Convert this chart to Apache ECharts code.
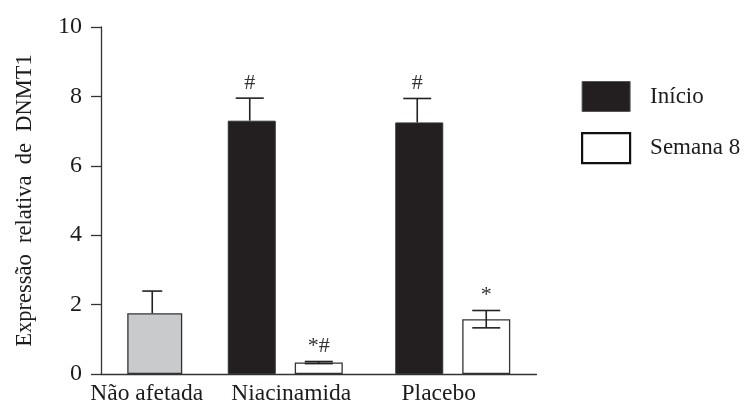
<!DOCTYPE html>
<html>
<head>
<meta charset="utf-8">
<script src="https://cdn.jsdelivr.net/npm/echarts@6/dist/echarts.min.js"></script>
<style>html,body{margin:0;padding:0;background:#fff;}#c{width:744px;height:406px;}</style>
</head>
<body>
<div id="c"></div>
<script>
// ---- data ----
const groups = ['Não afetada', 'Niacinamida', 'Placebo'];
const naoAfetada = [1.75];
const naoAfetadaErr = [0.64];
const inicio = [7.30, 7.25];          // Niacinamida, Placebo
const inicioErr = [0.65, 0.69];
const semana8 = [0.33, 1.58];         // Niacinamida, Placebo
const semana8Err = [0.03, 0.25];
const inicioMarks = ['#', '#'];
const semana8Marks = ['*#', '*'];
const yTicks = [0, 2, 4, 6, 8, 10];
const legendNames = ['Início', 'Semana 8'];
const yTitle = 'Expressão  relativa  de  DNMT1';

// ---- layout (slots on a category axis) ----
const nSlots = 13;
const slotGray = [1];
const slotInicio = [4, 9];
const slotSemana = [6, 11];
const labelSlots = [1, 5, 10];
const labelKeys = ['a', 'b', 'c'];

const axisCats = new Array(nSlots).fill('');
labelSlots.forEach((s, i) => axisCats[s] = groups[i]);
function fill(slots, vals) {
  const arr = new Array(nSlots).fill('-');
  slots.forEach((s, i) => arr[s] = vals[i]);
  return arr;
}
function errData(slots, vals, errs, lower) {
  return slots.map((s, i) => [s, vals[i], errs[i], lower ? 1 : 0]);
}
const ink = '#222';
const txt = '#1c1c1c';
const font = 'Liberation Serif';
function errRender(dx, halfCap, marks) {
  return function (params, api) {
    const s = api.value(0), v = api.value(1), e = api.value(2), low = api.value(3);
    const mark = marks ? marks[params.dataIndex] : '';
    const top = api.coord([s, v + e]);
    const mid = api.coord([s, v]);
    const bot = api.coord([s, v - e]);
    const x = top[0] + dx;
    const st = { stroke: ink, lineWidth: 1.6 };
    const ch = [
      { type: 'line', shape: { x1: x, y1: low ? bot[1] : mid[1], x2: x, y2: top[1] }, style: st },
      { type: 'line', shape: { x1: x - halfCap, y1: top[1], x2: x + halfCap, y2: top[1] }, style: st }
    ];
    if (low) ch.push({ type: 'line', shape: { x1: x - halfCap, y1: bot[1], x2: x + halfCap, y2: bot[1] }, style: st });
    if (mark) ch.push({ type: 'text', style: { text: mark, x: x, y: top[1] - 4, align: 'center', verticalAlign: 'bottom', fill: '#333', font: '22px "Liberation Serif"' } });
    return { type: 'group', children: ch };
  };
}

const chart = echarts.init(document.getElementById('c'), null, { renderer: 'canvas' });
chart.setOption({
  animation: false,
  backgroundColor: '#fff',
  grid: { left: 101, top: 27, width: 435.5, height: 347 },
  legend: {
    orient: 'vertical', left: 581, top: 81, padding: 0,
    itemWidth: 48, itemHeight: 30, itemGap: 20,
    icon: 'rect',
    data: [
      { name: legendNames[0], itemStyle: { color: '#231f20', borderColor: '#555', borderWidth: 1 } },
      { name: legendNames[1], itemStyle: { color: '#fff', borderColor: '#111', borderWidth: 2.2 } }
    ],
    textStyle: { fontFamily: font, fontSize: 23, color: txt, padding: [0, 0, 0, 15] }
  },
  xAxis: {
    type: 'category', data: axisCats,
    axisLine: { lineStyle: { color: '#333', width: 1.3 } },
    axisTick: { show: false },
    axisLabel: {
      interval: 0, margin: 8, fontFamily: font, fontSize: 23.5, color: txt,
      formatter: function (v) {
        const i = groups.indexOf(v);
        return i < 0 ? '' : '{' + labelKeys[i] + '|' + v + '}';
      },
      rich: {
        a: { fontFamily: font, fontSize: 23.5, color: txt, padding: [0, 9, 0, 0] },
        b: { fontFamily: font, fontSize: 23.5, color: txt, padding: [0, 0, 0, 12] },
        c: { fontFamily: font, fontSize: 23.5, color: txt, padding: [0, 28, 0, 0] }
      }
    }
  },
  yAxis: {
    type: 'value', min: yTicks[0], max: yTicks[yTicks.length - 1], interval: 2,
    name: yTitle, nameLocation: 'middle', nameGap: 64,
    nameTextStyle: { fontFamily: font, fontSize: 22.5, color: txt },
    axisLine: { show: true, lineStyle: { color: '#333', width: 1.3 } },
    axisTick: { show: true, length: 10, lineStyle: { color: '#333', width: 1.3 } },
    axisLabel: { margin: 19, fontFamily: font, fontSize: 24, color: txt },
    splitLine: { show: false }
  },
  series: [
    {
      name: 'Não afetada', type: 'bar', barWidth: 55, barGap: '-100%',
      data: fill(slotGray, naoAfetada),
      itemStyle: { color: '#c9cacc', borderColor: '#333', borderWidth: 1.3 }
    },
    {
      name: legendNames[0], type: 'bar', barWidth: 48, barGap: '-100%',
      data: fill(slotInicio, inicio),
      itemStyle: { color: '#231f20', borderColor: '#333', borderWidth: 1 }
    },
    {
      name: legendNames[1], type: 'bar', barWidth: 48, barGap: '-100%',
      data: fill(slotSemana, semana8),
      itemStyle: { color: '#fff', borderColor: '#333', borderWidth: 1.3 }
    },
    { type: 'custom', renderItem: errRender(1, 10), data: errData(slotGray, naoAfetada, naoAfetadaErr, false), z: 5 },
    { type: 'custom', renderItem: errRender(-2, 14, inicioMarks), data: errData(slotInicio, inicio, inicioErr, false), z: 5 },
    { type: 'custom', renderItem: errRender(0, 14, semana8Marks), data: errData(slotSemana, semana8, semana8Err, true), z: 5 }
  ]
});
</script>
</body>
</html>
